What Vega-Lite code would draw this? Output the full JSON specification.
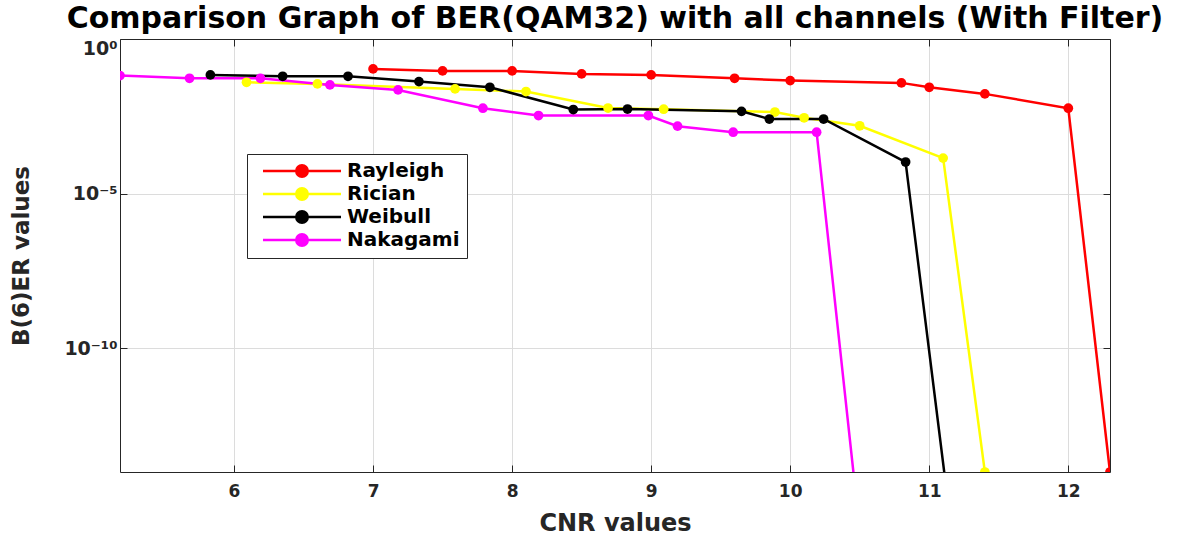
{
  "$schema": "https://vega.github.io/schema/vega-lite/v6.json",
  "width": 990,
  "height": 433,
  "autosize": {"type": "none"},
  "padding": {"left": 120, "top": 39, "right": 71, "bottom": 63},
  "background": "white",
  "title": {
    "text": "Comparison Graph of BER(QAM32) with all channels (With Filter)",
    "font": "DejaVu Sans",
    "fontWeight": "bold",
    "fontSize": 30,
    "color": "#000000",
    "anchor": "middle",
    "offset": 5
  },
  "config": {
    "view": {"stroke": null},
    "axis": {
      "labelFont": "DejaVu Sans",
      "labelFontWeight": "bold",
      "labelColor": "#262626",
      "titleFont": "DejaVu Sans",
      "titleFontWeight": "bold",
      "titleColor": "#262626",
      "domainColor": "#262626",
      "tickColor": "#262626",
      "gridColor": "#dcdcdc",
      "gridWidth": 1
    }
  },
  "data": {
    "values": [
      {"series": "Rayleigh", "cnr": 7.0, "ber": 0.108},
      {"series": "Rayleigh", "cnr": 7.5, "ber": 0.093},
      {"series": "Rayleigh", "cnr": 8.0, "ber": 0.093},
      {"series": "Rayleigh", "cnr": 8.5, "ber": 0.0743},
      {"series": "Rayleigh", "cnr": 9.0, "ber": 0.069},
      {"series": "Rayleigh", "cnr": 9.6, "ber": 0.0536},
      {"series": "Rayleigh", "cnr": 10.0, "ber": 0.0452},
      {"series": "Rayleigh", "cnr": 10.8, "ber": 0.0381},
      {"series": "Rayleigh", "cnr": 11.0, "ber": 0.0275},
      {"series": "Rayleigh", "cnr": 11.4, "ber": 0.0168},
      {"series": "Rayleigh", "cnr": 12.0, "ber": 0.00577},
      {"series": "Rayleigh", "cnr": 12.3, "ber": 1e-14},

      {"series": "Rician", "cnr": 6.09, "ber": 0.0398},
      {"series": "Rician", "cnr": 6.6, "ber": 0.0353},
      {"series": "Rician", "cnr": 7.59, "ber": 0.0244},
      {"series": "Rician", "cnr": 8.1, "ber": 0.02},
      {"series": "Rician", "cnr": 8.69, "ber": 0.00586},
      {"series": "Rician", "cnr": 9.09, "ber": 0.00536},
      {"series": "Rician", "cnr": 9.89, "ber": 0.00435},
      {"series": "Rician", "cnr": 10.1, "ber": 0.00283},
      {"series": "Rician", "cnr": 10.5, "ber": 0.00156},
      {"series": "Rician", "cnr": 11.1, "ber": 0.000141},
      {"series": "Rician", "cnr": 11.4, "ber": 1e-14},

      {"series": "Weibull", "cnr": 5.83, "ber": 0.069},
      {"series": "Weibull", "cnr": 6.35, "ber": 0.0622},
      {"series": "Weibull", "cnr": 6.82, "ber": 0.0622},
      {"series": "Weibull", "cnr": 7.33, "ber": 0.042},
      {"series": "Weibull", "cnr": 7.84, "ber": 0.0275},
      {"series": "Weibull", "cnr": 8.44, "ber": 0.00524},
      {"series": "Weibull", "cnr": 8.83, "ber": 0.00544},
      {"series": "Weibull", "cnr": 9.65, "ber": 0.00458},
      {"series": "Weibull", "cnr": 9.85, "ber": 0.00259},
      {"series": "Weibull", "cnr": 10.24, "ber": 0.00259},
      {"series": "Weibull", "cnr": 10.83, "ber": 0.000105},
      {"series": "Weibull", "cnr": 11.15, "ber": 3e-16},

      {"series": "Nakagami", "cnr": 5.18, "ber": 0.0655},
      {"series": "Nakagami", "cnr": 5.68, "ber": 0.0536},
      {"series": "Nakagami", "cnr": 6.19, "ber": 0.0536},
      {"series": "Nakagami", "cnr": 6.69, "ber": 0.0328},
      {"series": "Nakagami", "cnr": 7.18, "ber": 0.0226},
      {"series": "Nakagami", "cnr": 7.79, "ber": 0.00577},
      {"series": "Nakagami", "cnr": 8.19, "ber": 0.00336},
      {"series": "Nakagami", "cnr": 8.98, "ber": 0.00336},
      {"series": "Nakagami", "cnr": 9.19, "ber": 0.00152},
      {"series": "Nakagami", "cnr": 9.59, "ber": 0.00097},
      {"series": "Nakagami", "cnr": 10.19, "ber": 0.00097},
      {"series": "Nakagami", "cnr": 10.5, "ber": 1.3e-16}
    ]
  },
  "layer": [
    {
      "mark": {"type": "line", "strokeWidth": 2.5, "clip": true},
      "encoding": {
        "x": {
          "field": "cnr", "type": "quantitative",
          "scale": {"domain": [5.18, 12.3], "nice": false, "zero": false},
          "axis": {
            "orient": "bottom",
            "values": [6, 7, 8, 9, 10, 11, 12],
            "title": "CNR values",
            "titleFontSize": 24,
            "titlePadding": 12,
            "labelFontSize": 17,
            "labelPadding": 18,
            "tickSize": -7,
            "grid": true
          }
        },
        "y": {
          "field": "ber", "type": "quantitative",
          "scale": {"type": "log", "domain": [1e-14, 1], "nice": false},
          "axis": {
            "orient": "left",
            "values": [1e-10, 1e-5, 1],
            "labelExpr": "datum.value > 0.5 ? '10⁰' : (datum.value > 1e-7 ? '10⁻⁵' : '10⁻¹⁰')",
            "labelFlush": true,
            "labelFlushOffset": 0,
            "title": "B(6)ER values",
            "titleFontSize": 23,
            "titlePadding": 30,
            "labelFontSize": 19,
            "labelPadding": 10,
            "tickSize": -7,
            "grid": true
          }
        },
        "color": {
          "field": "series", "type": "nominal",
          "scale": {
            "domain": ["Rayleigh", "Rician", "Weibull", "Nakagami"],
            "range": ["#ff0000", "#ffff00", "#000000", "#ff00ff"]
          },
          "legend": {
            "title": null,
            "orient": "none",
            "legendX": 127,
            "legendY": 115,
            "direction": "vertical",
            "symbolType": "M-7.8,0L7.8,0M1.15,0A1.15,1.15,0,1,1,-1.15,0A1.15,1.15,0,1,1,1.15,0Z",
            "symbolSize": 100,
            "symbolStrokeWidth": 2.5,
            "symbolOffset": 38,
            "labelOffset": 35,
            "labelFont": "DejaVu Sans",
            "labelFontWeight": "bold",
            "labelFontSize": 20,
            "labelColor": "#000000",
            "rowPadding": 1,
            "strokeColor": "#262626",
            "fillColor": "white",
            "padding": 7,
            "encode": {
              "symbols": {
                "update": {
                  "fill": {"scale": "color", "field": "value"},
                  "stroke": {"scale": "color", "field": "value"}
                }
              }
            }
          }
        }
      }
    },
    {
      "mark": {"type": "point", "filled": true, "size": 95, "opacity": 1, "clip": true},
      "encoding": {
        "x": {
          "field": "cnr", "type": "quantitative",
          "axis": {
            "orient": "top",
            "values": [6, 7, 8, 9, 10, 11, 12],
            "labels": false,
            "title": null,
            "tickSize": -7,
            "minExtent": 0,
            "maxExtent": 0,
            "grid": false
          }
        },
        "y": {
          "field": "ber", "type": "quantitative",
          "axis": {
            "orient": "right",
            "values": [1e-10, 1e-5, 1],
            "labels": false,
            "title": null,
            "tickSize": -7,
            "minExtent": 0,
            "maxExtent": 0,
            "grid": false
          }
        },
        "color": {"field": "series", "type": "nominal"}
      }
    }
  ],
  "resolve": {"axis": {"x": "independent", "y": "independent"}}
}
